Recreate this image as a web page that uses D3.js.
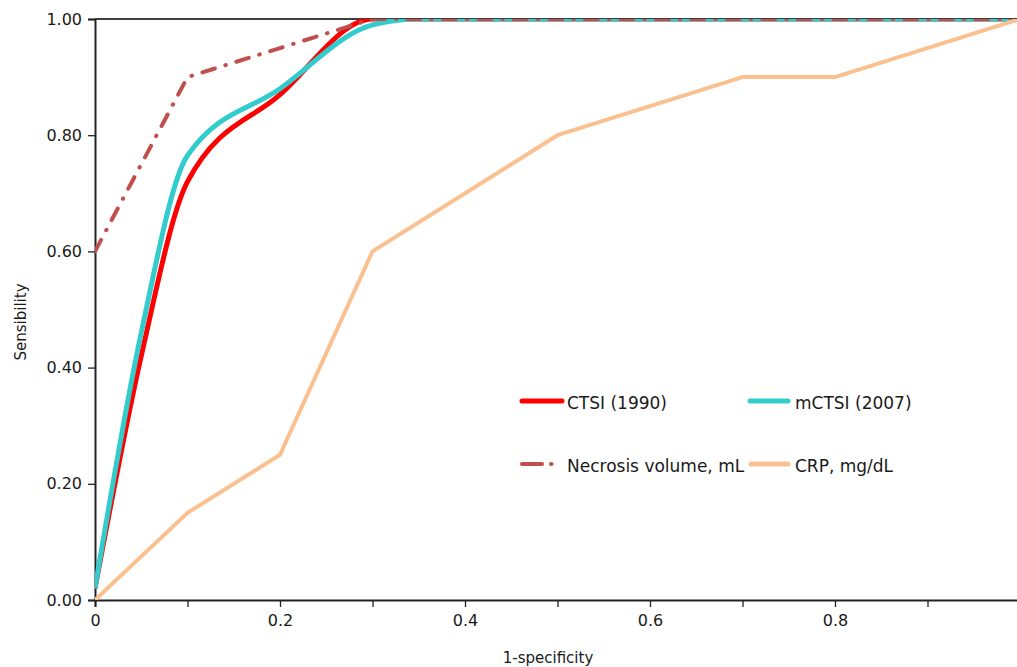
<!DOCTYPE html>
<html>
<head>
<meta charset="utf-8">
<script src="https://cdn.jsdelivr.net/npm/d3@7"></script>
<style>
  body { margin: 0; background: #fff; }
  text { font-family: "DejaVu Sans", sans-serif; fill: #1a1a1a; }
</style>
</head>
<body>
<div id="chart"></div>
<script>
const width = 1017;
const height = 667;

// ROC-pontok (1-specificitás, szenzitivitás)
const ctsiX = [0, 0.05, 0.1, 0.2, 0.3, 1];
const ctsiY = [0.02, 0.42, 0.72, 0.87, 1, 1];
const mctsiX = [0, 0.05, 0.1, 0.2, 0.3, 0.35, 1];
const mctsiY = [0.02, 0.46, 0.765, 0.88, 0.99, 1, 1];
const necrosisX = [0, 0.1, 0.2, 0.3, 1];
const necrosisY = [0.6, 0.9, 0.95, 1, 1];
const crpX = [0, 0.1, 0.2, 0.3, 0.5, 0.7, 0.8, 1];
const crpY = [0, 0.15, 0.25, 0.6, 0.8, 0.9, 0.9, 1];

const xTicks = [0, 0.1, 0.2, 0.3, 0.4, 0.5, 0.6, 0.7, 0.8, 0.9, 1];
const xTickLabels = ["0", "", "0.2", "", "0.4", "", "0.6", "", "0.8", "", "1"];
const yTicks = [0, 0.2, 0.4, 0.6, 0.8, 1];

const series = [
  { name: "CTSI (1990)", xs: ctsiX, ys: ctsiY, color: "#ff0000", w: 5, dash: null, curve: d3.curveMonotoneX },
  { name: "mCTSI (2007)", xs: mctsiX, ys: mctsiY, color: "#33cccc", w: 5, dash: null, curve: d3.curveMonotoneX },
  { name: "Necrosis volume, mL", xs: necrosisX, ys: necrosisY, color: "#c0504d", w: 4, dash: "13,11,0.5,11", curve: d3.curveLinear },
  { name: "CRP, mg/dL", xs: crpX, ys: crpY, color: "#fac090", w: 4, dash: null, curve: d3.curveLinear }
];

const margin = { left: 95, top: 19, bottom: 67 };
const plotW = 925;

const svg = d3.select("#chart")
  .append("svg")
  .attr("width", width)
  .attr("height", height);

const x = d3.scaleLinear().domain([0, 1]).range([margin.left, margin.left + plotW]);
const y = d3.scaleLinear().domain([0, 1]).range([height - margin.bottom, margin.top]);

// Felső keret
svg.append("line")
  .attr("x1", x(0)).attr("x2", x(1))
  .attr("y1", y(1)).attr("y2", y(1))
  .attr("stroke", "#000").attr("stroke-width", 1.3);

// Tengelyek
const xAxis = svg.append("g")
  .attr("transform", `translate(0,${y(0)})`)
  .call(d3.axisBottom(x).tickValues(xTicks).tickSize(7).tickPadding(8)
    .tickFormat((d, i) => xTickLabels[i]));

const yAxis = svg.append("g")
  .attr("transform", `translate(${x(0)},0)`)
  .call(d3.axisLeft(y).tickValues(yTicks).tickSize(7).tickPadding(6)
    .tickFormat(d3.format(".2f")));

[xAxis, yAxis].forEach(g => {
  g.select(".domain").attr("stroke", "#222").attr("stroke-width", 2);
  g.selectAll(".tick line").attr("stroke", "#222").attr("stroke-width", 1.3);
  g.selectAll(".tick text").style("font-size", "16px").attr("fill", "#1a1a1a");
});

// Tengelycímek
svg.append("text")
  .attr("x", 548).attr("y", 663)
  .attr("text-anchor", "middle")
  .style("font-size", "15px")
  .text("1-specificity");

svg.append("text")
  .attr("transform", "translate(26,322) rotate(-90)")
  .attr("text-anchor", "middle")
  .style("font-size", "15px")
  .text("Sensibility");

// Vonalak kirajzolása
svg.append("clipPath").attr("id", "plot-clip")
  .append("rect")
  .attr("x", x(0)).attr("y", y(1))
  .attr("width", plotW).attr("height", y(0) - y(1));

const lines = svg.append("g").attr("clip-path", "url(#plot-clip)");

series.forEach(s => {
  const pts = s.xs.map((v, i) => [v, s.ys[i]]);
  const line = d3.line().x(d => x(d[0])).y(d => y(d[1])).curve(s.curve);
  lines.append("path")
    .datum(pts)
    .attr("d", line)
    .attr("fill", "none")
    .attr("stroke", s.color)
    .attr("stroke-width", s.w)
    .attr("stroke-linejoin", "round")
    .attr("stroke-linecap", s.dash ? "round" : "butt")
    .attr("stroke-dasharray", s.dash);
});

// Jelmagyarázat
const legendPos = [
  { x: 522, y: 401, len: 40 },
  { x: 750, y: 401, len: 38 },
  { x: 522, y: 464, len: 36 },
  { x: 751, y: 464, len: 37 }
];

series.forEach((s, i) => {
  const p = legendPos[i];
  const g = svg.append("g");
  g.append("line")
    .attr("x1", p.x).attr("x2", p.x + p.len)
    .attr("y1", p.y).attr("y2", p.y)
    .attr("stroke", s.color)
    .attr("stroke-width", s.dash ? 4 : 5)
    .attr("stroke-linecap", "round")
    .attr("stroke-dasharray", s.dash ? "20,9,0.5,30" : null);
  g.append("text")
    .attr("x", i % 2 === 0 ? 567 : 795)
    .attr("y", p.y + 8)
    .style("font-size", "17px")
    .text(s.name);
});
</script>
</body>
</html>
